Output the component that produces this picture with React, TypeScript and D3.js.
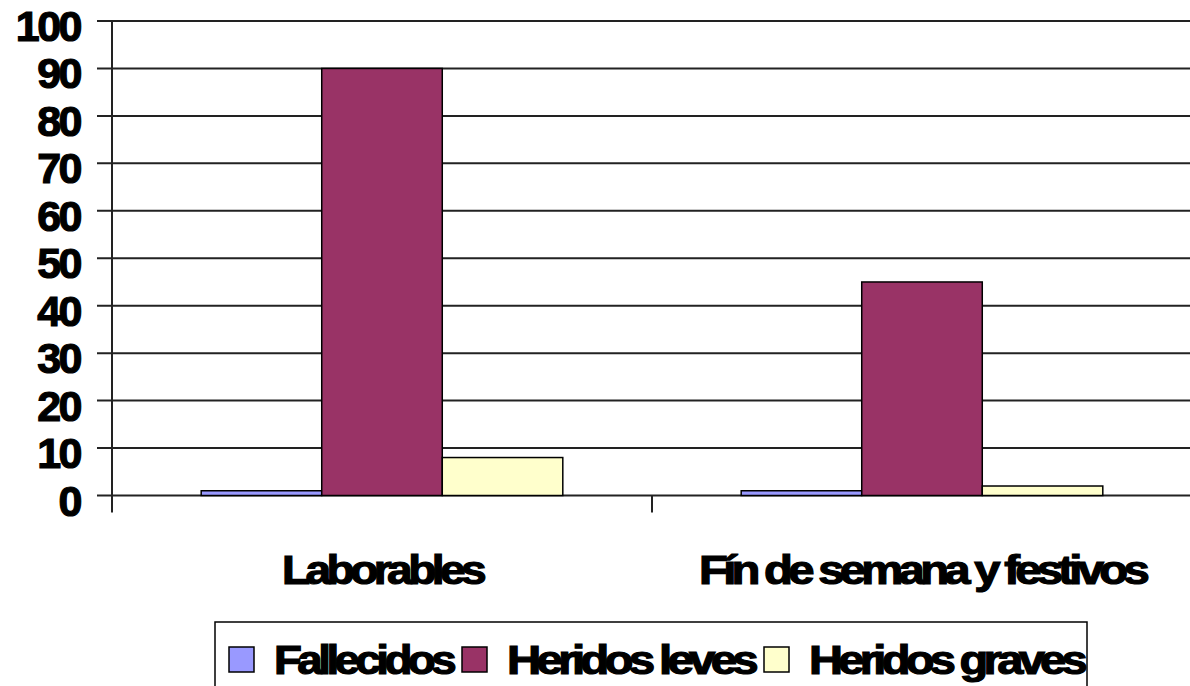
import React from "react";
import * as d3 from "d3";

const categories = ["Laborables", "Fín de semana y festivos"];
const series = ["Fallecidos", "Heridos leves", "Heridos graves"];
const colors = ["#9999FF", "#993366", "#FFFFCC"];
const fallecidos = [1, 1];
const heridosLeves = [90, 45];
const heridosGraves = [8, 2];
const yTicks = [0, 10, 20, 30, 40, 50, 60, 70, 80, 90, 100];

const values = [fallecidos, heridosLeves, heridosGraves];

// rendered widths of the (squeezed) labels in the original picture
const catWidths = [200, 446];
const legendWidths = [178, 247, 274];

const W = 1190;
const H = 686;
const font = "'Liberation Sans', Arial, sans-serif";

export default function App() {
  const left = 112;
  const right = 1192;
  const top = 21;
  const bottom = 495.5;

  const x0 = d3.scaleBand<string>().domain(categories).range([left, right]);
  const x1 = d3
    .scaleBand<string>()
    .domain(series)
    .range([0, x0.bandwidth()])
    .paddingOuter(0.74);
  const y = d3.scaleLinear().domain([0, 100]).range([bottom, top]);

  // legend layout
  const legTop = 622;
  const sw = 25;
  let cx = 229;
  const legItems = series.map((s, i) => {
    const item = { s, i, sx: cx, tx: cx + sw + 20 };
    cx = item.tx + legendWidths[i] + 10;
    return item;
  });

  const heavy = { stroke: "#000", strokeWidth: 1.2 };

  return (
    <svg
      width={W}
      height={H}
      style={{ position: "absolute", left: 0, top: 0, background: "#fff" }}
    >
      {/* gridlines + y ticks */}
      {yTicks.map((t) => (
        <g key={t}>
          <line
            x1={97}
            x2={right}
            y1={y(t)}
            y2={y(t)}
            stroke="#222"
            strokeWidth={2}
          />
          <text
            x={80}
            y={y(t) + 20}
            textAnchor="end"
            fontFamily={font}
            fontWeight="bold"
            fontSize={43}
            letterSpacing={-2.5}
            {...heavy}
          >
            {t}
          </text>
        </g>
      ))}

      {/* y axis */}
      <line x1={left} x2={left} y1={top} y2={bottom + 17} stroke="#222" strokeWidth={2} />
      {/* category ticks */}
      {categories.slice(1).map((c) => (
        <line
          key={c}
          x1={x0(c)!}
          x2={x0(c)!}
          y1={bottom}
          y2={bottom + 17}
          stroke="#222"
          strokeWidth={2}
        />
      ))}

      {/* bars */}
      {categories.map((c, ci) =>
        series.map((s, si) => {
          const v = values[si][ci];
          return (
            <rect
              key={c + s}
              x={x0(c)! + x1(s)!}
              y={y(v)}
              width={x1.bandwidth()}
              height={bottom - y(v)}
              fill={colors[si]}
              stroke="#000"
              strokeWidth={1.5}
            />
          );
        })
      )}

      {/* category labels */}
      {categories.map((c, i) => (
        <text
          key={c}
          x={x0(c)! + x0.bandwidth() / 2}
          y={584}
          textAnchor="middle"
          fontFamily={font}
          fontWeight="bold"
          fontSize={40}
          letterSpacing={-4}
          textLength={catWidths[i]}
          lengthAdjust="spacingAndGlyphs"
          {...heavy}
        >
          {c}
        </text>
      ))}

      {/* legend */}
      <rect
        x={215}
        y={legTop}
        width={872}
        height={80}
        fill="#fff"
        stroke="#000"
        strokeWidth={1.5}
      />
      {legItems.map(({ s, i, sx, tx }) => (
        <g key={s}>
          <rect
            x={sx}
            y={647}
            width={sw}
            height={sw}
            fill={colors[i]}
            stroke="#000"
            strokeWidth={1.5}
          />
          <text
            x={tx}
            y={674}
            fontFamily={font}
            fontWeight="bold"
            fontSize={40}
            letterSpacing={-4}
            textLength={legendWidths[i]}
            lengthAdjust="spacingAndGlyphs"
            {...heavy}
          >
            {s}
          </text>
        </g>
      ))}
    </svg>
  );
}
